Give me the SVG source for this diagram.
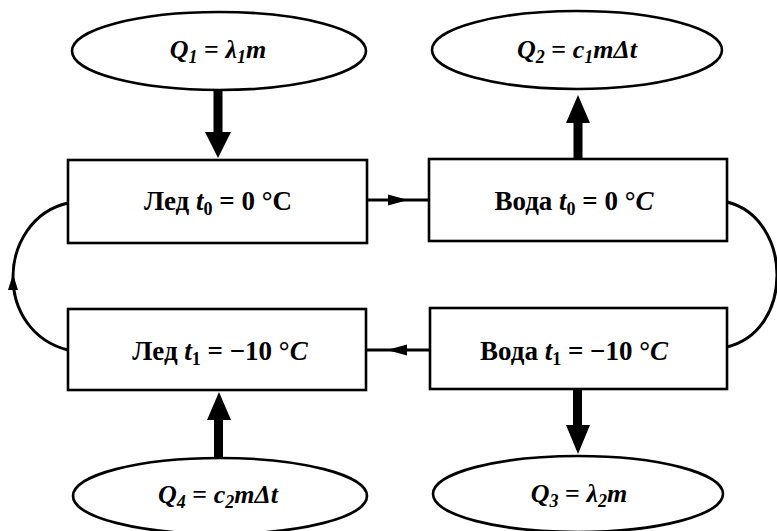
<svg xmlns="http://www.w3.org/2000/svg" width="777" height="531" viewBox="0 0 777 531">
<style>
.shape{fill:#fff;stroke:#000;stroke-width:2.6}
.conn{fill:none;stroke:#000;stroke-width:3}
.t{font-family:"Liberation Serif","DejaVu Serif",serif;font-weight:bold;font-size:27px;fill:#000;text-anchor:middle}
.q{font-family:"Liberation Serif","DejaVu Serif",serif;font-weight:bold;font-style:italic;font-size:26px;fill:#000;text-anchor:middle}
.i{font-style:italic}
.s{font-size:18px}
.up{font-style:normal}
</style>
<g id="connectors">
<path class="conn" d="M367,200 L429,200"/>
<path d="M388,194.5 L408,200 L388,205.5 Z" fill="#000"/>
<path class="conn" d="M430,350 L366,350"/>
<path d="M407,344.5 L387,350 L407,355.5 Z" fill="#000"/>
<path class="conn" d="M68,203 C32,211 13,245 13,277 C13,310 32,341 68,350"/>
<path d="M8,290 L13,274 L18,290 Z" fill="#000"/>
<path class="conn" d="M727,202 C760,210 777,243 777,275 C777,308 760,339 727,347"/>
<path d="M213.5,90 L222.5,90 L222.5,132 L231,132 L218,158 L205,132 L213.5,132 Z" fill="#000"/>
<path d="M573.5,159 L582.5,159 L582.5,123 L590,123 L578,95 L566,123 L573.5,123 Z" fill="#000"/>
<path d="M214,457 L223,457 L223,420 L231,420 L219,392 L207,420 L214,420 Z" fill="#000"/>
<path d="M573,389 L582,389 L582,425 L590,425 L578,454 L566,425 L573,425 Z" fill="#000"/>
</g>
<g id="q1">
<ellipse class="shape" cx="219" cy="51" rx="147" ry="39"/>
<text class="q" x="218" y="58">Q<tspan class="s" dy="5">1</tspan><tspan dy="-5" class="up"> = </tspan>λ<tspan class="s" dy="5">1</tspan><tspan dy="-5">m</tspan></text>
</g>
<g id="q2">
<ellipse class="shape" cx="577" cy="50" rx="145" ry="39"/>
<text class="q" x="577" y="58">Q<tspan class="s" dy="5">2</tspan><tspan dy="-5" class="up"> = </tspan>c<tspan class="s" dy="5">1</tspan><tspan dy="-5">mΔt</tspan></text>
</g>
<g id="ice0">
<rect class="shape" x="68" y="160" width="299" height="83"/>
<text class="t" x="218" y="210">Лед <tspan class="i">t</tspan><tspan class="s" dy="5">0</tspan><tspan dy="-5"> = 0 °C</tspan></text>
</g>
<g id="water0">
<rect class="shape" x="429" y="159" width="298" height="82"/>
<text class="t" x="574" y="210">Вода <tspan class="i">t</tspan><tspan class="s" dy="5">0</tspan><tspan dy="-5"> = 0 °</tspan><tspan class="i">C</tspan></text>
</g>
<g id="ice1">
<rect class="shape" x="68" y="309" width="298" height="81"/>
<text class="t" x="220" y="360">Лед <tspan class="i">t</tspan><tspan class="s" dy="5">1</tspan><tspan dy="-5"> = −10 °</tspan><tspan class="i">C</tspan></text>
</g>
<g id="water1">
<rect class="shape" x="430" y="308" width="297" height="81"/>
<text class="t" x="574" y="360">Вода <tspan class="i">t</tspan><tspan class="s" dy="5">1</tspan><tspan dy="-5"> = −10 °</tspan><tspan class="i">C</tspan></text>
</g>
<g id="q4">
<ellipse class="shape" cx="220" cy="496" rx="147" ry="38"/>
<text class="q" x="218" y="503">Q<tspan class="s" dy="5">4</tspan><tspan dy="-5" class="up"> = </tspan>c<tspan class="s" dy="5">2</tspan><tspan dy="-5">mΔt</tspan></text>
</g>
<g id="q3">
<ellipse class="shape" cx="578" cy="494" rx="145" ry="38"/>
<text class="q" x="579" y="502">Q<tspan class="s" dy="5">3</tspan><tspan dy="-5" class="up"> = </tspan>λ<tspan class="s" dy="5">2</tspan><tspan dy="-5">m</tspan></text>
</g>
</svg>
